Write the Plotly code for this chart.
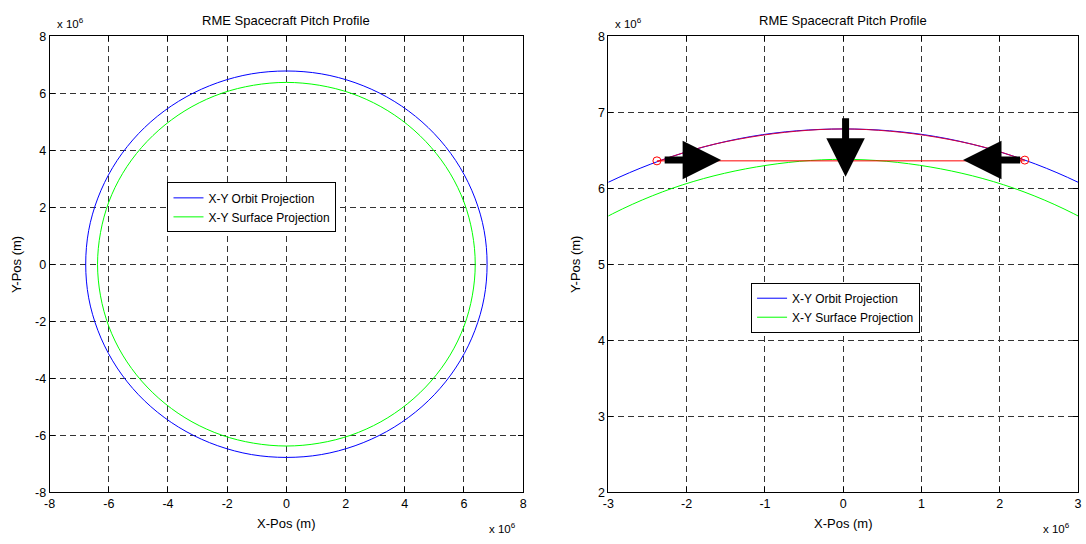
import plotly.graph_objects as go

W, H = 1086, 544

# ---- data (units of 1e6 m) ----
orbit_x = [6.78, 6.68, 6.37, 5.87, 5.19, 4.36, 3.39, 2.32, 1.18, 0.0, -1.18, -2.32, -3.39, -4.36, -5.19, -5.87,
           -6.37, -6.68, -6.78, -6.68, -6.37, -5.87, -5.19, -4.36, -3.39, -2.32, -1.18, 0.0, 1.18, 2.32, 3.39,
           4.36, 5.19, 5.87, 6.37, 6.68, 6.78]
orbit_y = [0.0, 1.18, 2.32, 3.39, 4.36, 5.19, 5.87, 6.37, 6.68, 6.78, 6.68, 6.37, 5.87, 5.19, 4.36, 3.39,
           2.32, 1.18, 0.0, -1.18, -2.32, -3.39, -4.36, -5.19, -5.87, -6.37, -6.68, -6.78, -6.68, -6.37, -5.87,
           -5.19, -4.36, -3.39, -2.32, -1.18, 0.0]
surface_x = [6.38, 6.28, 6.00, 5.53, 4.89, 4.10, 3.19, 2.18, 1.11, 0.0, -1.11, -2.18, -3.19, -4.10, -4.89, -5.53,
             -6.00, -6.28, -6.38, -6.28, -6.00, -5.53, -4.89, -4.10, -3.19, -2.18, -1.11, 0.0, 1.11, 2.18, 3.19,
             4.10, 4.89, 5.53, 6.00, 6.28, 6.38]
surface_y = [0.0, 1.11, 2.18, 3.19, 4.10, 4.89, 5.53, 6.00, 6.28, 6.38, 6.28, 6.00, 5.53, 4.89, 4.10, 3.19,
             2.18, 1.11, 0.0, -1.11, -2.18, -3.19, -4.10, -4.89, -5.53, -6.00, -6.28, -6.38, -6.28, -6.00, -5.53,
             -4.89, -4.10, -3.19, -2.18, -1.11, 0.0]

arc_x = [-2.38, -1.8, -1.2, -0.6, 0.0, 0.6, 1.2, 1.8, 2.32]
arc_y = [6.35, 6.54, 6.67, 6.75, 6.78, 6.75, 6.67, 6.54, 6.37]
chord_x = [-2.38, 2.32]
chord_y = [6.36, 6.36]
end_x = [-2.38, 2.32]
end_y = [6.36, 6.37]

arrow_tail_x = [-2.30, 0.03, 2.28]
arrow_tail_y = [6.37, 6.94, 6.37]
arrow_tip_x = [-1.56, 0.03, 1.53]
arrow_tip_y = [6.37, 6.15, 6.37]

left_ticks = [-8, -6, -4, -2, 0, 2, 4, 6, 8]
left_ticktext = ["-8", "-6", "-4", "-2", "0", "2", "4", "6", "8"]
right_xticks = [-3, -2, -1, 0, 1, 2, 3]
right_xticktext = ["-3", "-2", "-1", "0", "1", "2", "3"]
right_yticks = [2, 3, 4, 5, 6, 7, 8]
right_yticktext = ["2", "3", "4", "5", "6", "7", "8"]

title_text = "RME Spacecraft Pitch Profile"
xlabel = "X-Pos (m)"
ylabel = "Y-Pos (m)"
orbit_name = "X-Y Orbit Projection"
surface_name = "X-Y Surface Projection"

FONT = "Liberation Sans, Arial, sans-serif"
BLUE, GREEN, RED = "#0000ff", "#00ff00", "#ff0000"

fig = go.Figure()

# left plot
fig.add_trace(go.Scatter(x=orbit_x, y=orbit_y, mode="lines", name=orbit_name,
                         line=dict(color=BLUE, width=1, shape="spline"), xaxis="x", yaxis="y", legend="legend"))
fig.add_trace(go.Scatter(x=surface_x, y=surface_y, mode="lines", name=surface_name,
                         line=dict(color=GREEN, width=1, shape="spline"), xaxis="x", yaxis="y", legend="legend"))
# right plot
fig.add_trace(go.Scatter(x=orbit_x, y=orbit_y, mode="lines", name=orbit_name,
                         line=dict(color=BLUE, width=1, shape="spline"), xaxis="x2", yaxis="y2", legend="legend2"))
fig.add_trace(go.Scatter(x=surface_x, y=surface_y, mode="lines", name=surface_name,
                         line=dict(color=GREEN, width=1, shape="spline"), xaxis="x2", yaxis="y2", legend="legend2"))
fig.add_trace(go.Scatter(x=arc_x, y=arc_y, mode="lines", showlegend=False,
                         line=dict(color="#d8003c", width=1, shape="spline"), xaxis="x2", yaxis="y2"))
fig.add_trace(go.Scatter(x=chord_x, y=chord_y, mode="lines", showlegend=False,
                         line=dict(color=RED, width=1), xaxis="x2", yaxis="y2"))
fig.add_trace(go.Scatter(x=end_x, y=end_y, mode="markers", showlegend=False,
                         marker=dict(symbol="circle-open", size=8, color=RED, line=dict(width=1)),
                         xaxis="x2", yaxis="y2"))

L = (44 / W, 522 / W)
R = (608 / W, 1082 / W)
YD = (1 - 498 / H, 1 - 30 / H)

axis_common = dict(showline=True, linecolor="black", linewidth=1, mirror="allticks", ticks="inside",
                   ticklen=5, tickcolor="black", showgrid=True, gridcolor="#333333", griddash="6px,4px",
                   gridwidth=1, zeroline=False, tickfont=dict(family=FONT, size=12.5, color="black"),
                   fixedrange=True)

fig.update_layout(
    width=W, height=H, margin=dict(l=0, r=0, t=0, b=0),
    paper_bgcolor="white", plot_bgcolor="white",
    font=dict(family=FONT, size=12, color="black"),
    xaxis=dict(domain=L, range=[-8, 8], tickvals=left_ticks, ticktext=left_ticktext, anchor="y", **axis_common),
    yaxis=dict(domain=YD, range=[-8, 8], tickvals=left_ticks, ticktext=left_ticktext, anchor="x", **axis_common),
    xaxis2=dict(domain=R, range=[-3, 3], tickvals=right_xticks, ticktext=right_xticktext, anchor="y2",
                **axis_common),
    yaxis2=dict(domain=YD, range=[2, 8], tickvals=right_yticks, ticktext=right_yticktext, anchor="x2",
                **axis_common),
    legend=dict(x=163 / W, y=1 - 180 / H, xanchor="left", yanchor="top", bgcolor="white",
                bordercolor="black", borderwidth=1, font=dict(family=FONT, size=12), tracegroupgap=0,
                itemwidth=30),
    legend2=dict(x=752 / W, y=1 - 283 / H, xanchor="left", yanchor="top", bgcolor="white",
                 bordercolor="black", borderwidth=1, font=dict(family=FONT, size=12), tracegroupgap=0,
                 itemwidth=30),
    showlegend=True,
)

ann = []
for dom in (L, R):
    cx = (dom[0] + dom[1]) / 2
    ann.append(dict(text=title_text, x=cx, y=1 - 14 / H, xref="paper", yref="paper", showarrow=False,
                    xanchor="center", yanchor="middle", font=dict(size=13)))
    ann.append(dict(text=xlabel, x=cx, y=1 - 530 / H, xref="paper", yref="paper", showarrow=False,
                    xanchor="center", yanchor="middle", font=dict(size=13)))
    ann.append(dict(text="x 10<sup>6</sup>", x=dom[0] + 5 / W, y=1 - 16 / H, xref="paper", yref="paper",
                    showarrow=False, xanchor="left", yanchor="middle", font=dict(size=11.5)))
    ann.append(dict(text="x 10<sup>6</sup>", x=dom[1] - 37 / W, y=0, xref="paper", yref="paper",
                    showarrow=False, xanchor="left", yanchor="bottom", font=dict(size=11.5)))
    ann.append(dict(text=ylabel, x=dom[0] - 34 / W, y=(YD[0] + YD[1]) / 2, xref="paper", yref="paper",
                    showarrow=False, textangle=-90, xanchor="center", yanchor="middle",
                    font=dict(size=13)))

for tx, ty, hx, hy in zip(arrow_tail_x, arrow_tail_y, arrow_tip_x, arrow_tip_y):
    ann.append(dict(x=hx, y=hy, ax=tx, ay=ty, xref="x2", yref="y2", axref="x2", ayref="y2",
                    text="", showarrow=True, arrowhead=2, arrowsize=1.1, arrowwidth=7,
                    arrowcolor="black", standoff=0, startstandoff=0))

fig.update_layout(annotations=ann)

fig.write_html("out.html")
